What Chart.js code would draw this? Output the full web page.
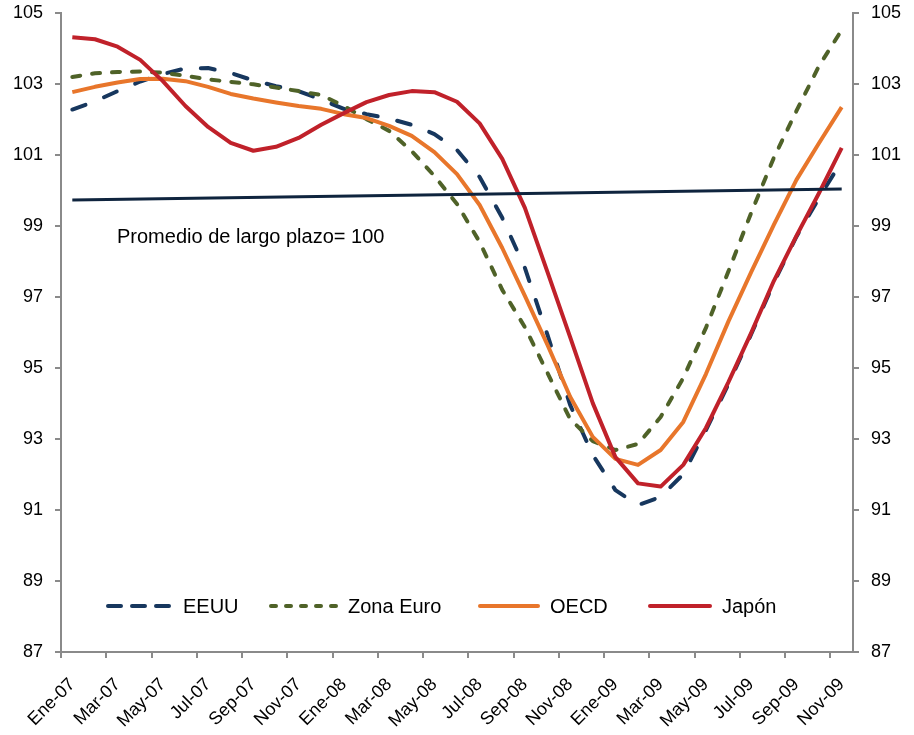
<!DOCTYPE html>
<html>
<head>
<meta charset="utf-8">
<script src="https://cdn.jsdelivr.net/npm/chart.js@4.4.1/dist/chart.umd.min.js"></script>
<style>
  html, body { margin: 0; padding: 0; background: #ffffff; }
  #wrap { width: 914px; height: 735px; position: relative; }
</style>
</head>
<body>
<div id="wrap"><canvas id="chart" width="914" height="735"></canvas></div>
<script>
// Meses (Ene-07 a Nov-09)
const meses = [
  'Ene-07','Feb-07','Mar-07','Abr-07','May-07','Jun-07','Jul-07','Ago-07','Sep-07','Oct-07','Nov-07','Dic-07',
  'Ene-08','Feb-08','Mar-08','Abr-08','May-08','Jun-08','Jul-08','Ago-08','Sep-08','Oct-08','Nov-08','Dic-08',
  'Ene-09','Feb-09','Mar-09','Abr-09','May-09','Jun-09','Jul-09','Ago-09','Sep-09','Oct-09','Nov-09'
];

// Indicadores adelantados compuestos
const eeuu = [
  102.28, 102.51, 102.80, 103.07, 103.28, 103.44, 103.45, 103.31, 103.10, 102.94, 102.80, 102.56,
  102.30, 102.15, 102.03, 101.85, 101.59, 101.14, 100.38, 99.23, 97.82, 95.93, 93.96, 92.55,
  91.56, 91.14, 91.37, 92.01, 93.25, 94.55, 95.95, 97.40, 98.70, 99.79, 100.83
];
const zonaEuro = [
  103.20, 103.30, 103.34, 103.35, 103.32, 103.23, 103.13, 103.06, 102.99, 102.90, 102.80, 102.69,
  102.38, 102.01, 101.68, 101.11, 100.41, 99.62, 98.55, 97.20, 96.15, 94.86, 93.56, 92.94,
  92.69, 92.86, 93.62, 94.72, 96.13, 97.73, 99.37, 100.92, 102.24, 103.51, 104.52
];
const oecd = [
  102.77, 102.92, 103.04, 103.14, 103.15, 103.08, 102.92, 102.72, 102.59, 102.48, 102.38, 102.30,
  102.15, 102.04, 101.82, 101.54, 101.08, 100.46, 99.59, 98.38, 97.03, 95.65, 94.19, 93.06,
  92.44, 92.27, 92.69, 93.48, 94.83, 96.32, 97.70, 99.03, 100.30, 101.34, 102.35
];
const japon = [
  104.32, 104.26, 104.05, 103.68, 103.08, 102.38, 101.79, 101.34, 101.12, 101.23, 101.48, 101.85,
  102.18, 102.49, 102.69, 102.80, 102.77, 102.50, 101.89, 100.89, 99.51, 97.70, 95.87, 94.01,
  92.49, 91.75, 91.66, 92.27, 93.31, 94.61, 95.99, 97.45, 98.72, 99.93, 101.20
];
// Promedio de largo plazo: valores en el primer y el último mes
const promedioLargoPlazo = [99.73, 100.04];

// Marcas del eje vertical
const ejeMin = 87, ejeMax = 105, ejePaso = 2;

const colores = {
  eeuu: '#17375e',
  zonaEuro: '#4f6228',
  oecd: '#e8762b',
  japon: '#c0212a',
  promedio: '#0f243e',
  eje: '#8a8a8a'
};

const fuente = "'Liberation Sans', Arial, sans-serif";

// Leyenda dibujada dentro del área del gráfico
const leyenda = [
  { texto: 'EEUU', color: colores.eeuu, dash: [13, 11], x0: 45, x1: 110, tx: 122 },
  { texto: 'Zona Euro', color: colores.zonaEuro, dash: [5, 10], x0: 208, x1: 280, tx: 287 },
  { texto: 'OECD', color: colores.oecd, dash: [], x0: 417, x1: 479, tx: 489 },
  { texto: 'Japón', color: colores.japon, dash: [], x0: 587, x1: 651, tx: 661 }
];

const plugLeyendaYTexto = {
  id: 'leyendaYTexto',
  afterDatasetsDraw(chart) {
    const { ctx, chartArea } = chart;
    ctx.save();
    // Texto del promedio
    ctx.fillStyle = '#000000';
    ctx.font = '20px ' + fuente;
    ctx.textBaseline = 'middle';
    ctx.textAlign = 'left';
    ctx.fillText('Promedio de largo plazo= 100', chartArea.left + 56, 237);
    // Leyenda
    const y = 606;
    leyenda.forEach(it => {
      ctx.beginPath();
      ctx.strokeStyle = it.color;
      ctx.lineWidth = 4;
      ctx.lineCap = 'round';
      ctx.setLineDash(it.dash);
      ctx.moveTo(chartArea.left + it.x0 + 2, y);
      ctx.lineTo(chartArea.left + it.x1 - 2, y);
      ctx.stroke();
      ctx.setLineDash([]);
      ctx.fillStyle = '#000000';
      ctx.font = '20px ' + fuente;
      ctx.fillText(it.texto, chartArea.left + it.tx, y + 1);
    });
    ctx.restore();
  }
};

function serie(label, data, color, dash, orden) {
  return {
    label, data,
    borderColor: color,
    backgroundColor: color,
    borderWidth: 4,
    borderDash: dash,
    borderCapStyle: dash.length ? 'round' : 'butt',
    borderJoinStyle: 'round',
    pointRadius: 0,
    tension: 0,
    fill: false,
    order: orden
  };
}

const ejeY = (pos) => ({
  type: 'linear',
  position: pos,
  min: ejeMin,
  max: ejeMax,
  ticks: {
    stepSize: ejePaso,
    color: '#000000',
    font: { family: fuente, size: 18 },
    padding: 12
  },
  grid: { drawOnChartArea: false, color: colores.eje, lineWidth: 2, tickLength: 6 },
  border: { color: colores.eje, width: 2 },
  afterFit(scale) {
    scale.width = 61;
    scale.paddingTop = 0;
    scale.paddingBottom = 0;
  }
});

new Chart(document.getElementById('chart'), {
  type: 'line',
  data: {
    labels: meses,
    datasets: [
      {
        label: 'Promedio de largo plazo',
        data: [
          { x: meses[0], y: promedioLargoPlazo[0] },
          { x: meses[meses.length - 1], y: promedioLargoPlazo[1] }
        ],
        borderColor: colores.promedio,
        borderWidth: 3,
        pointRadius: 0,
        fill: false,
        order: 0
      },
      serie('Japón', japon, colores.japon, [], 1),
      serie('OECD', oecd, colores.oecd, [], 2),
      serie('Zona Euro', zonaEuro, colores.zonaEuro, [8, 12], 3),
      serie('EEUU', eeuu, colores.eeuu, [14, 20], 4)
    ]
  },
  options: {
    responsive: false,
    animation: false,
    layout: { padding: { top: 13, left: 0, right: 0, bottom: 0 } },
    plugins: {
      legend: { display: false },
      tooltip: { enabled: false }
    },
    scales: {
      x: {
        type: 'category',
        offset: true,
        ticks: {
          autoSkip: false,
          maxRotation: 45,
          minRotation: 45,
          color: '#000000',
          font: { family: fuente, size: 18 },
          padding: 16,
          callback(value, index) {
            return index % 2 === 0 ? this.getLabelForValue(value) : '';
          }
        },
        grid: {
          offset: true,
          drawOnChartArea: false,
          tickLength: 6,
          lineWidth: 2,
          color: (c) => (c.index % 2 === 0 ? colores.eje : 'rgba(0,0,0,0)')
        },
        border: { color: colores.eje, width: 2 },
        afterFit(scale) {
          scale.height = 83;
          scale.paddingLeft = 0;
          scale.paddingRight = 0;
        }
      },
      y: ejeY('left'),
      y2: ejeY('right')
    }
  },
  plugins: [plugLeyendaYTexto]
});
</script>
</body>
</html>
